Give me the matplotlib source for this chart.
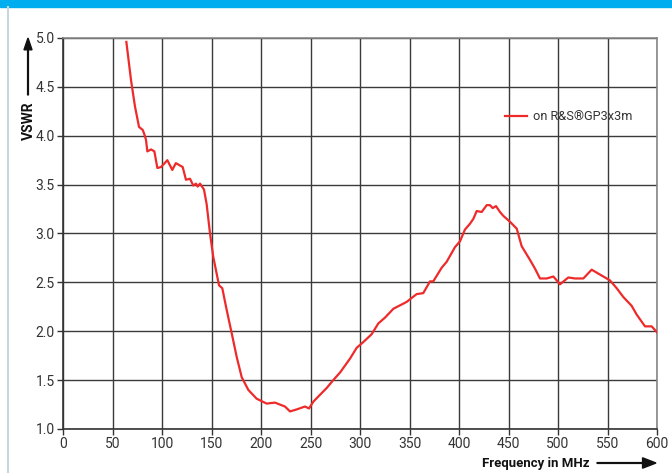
import matplotlib
matplotlib.use("Agg")
import matplotlib.pyplot as plt
from matplotlib import font_manager

# Measured VSWR of the antenna on the R&S GP3x3m ground plane
freq_mhz = [64, 68.7, 72.7, 76.8, 80.5, 82, 83.8, 85.2, 89, 92.3, 95.3, 99, 105.4, 110.4,
            114, 120.9, 124.2, 128.3, 131.6, 134.3, 136, 138.4, 142.4, 145.1, 148.5,
            151.8, 157.6, 160.9, 165.3, 170.4, 175.4, 180.5, 187.2, 195.6, 205.7, 214.1,
            224.2, 229.3, 236, 244.4, 248.5, 252.9, 259.6, 266.4, 273, 280, 289.9, 296.6,
            303.4, 311.8, 318.5, 325.3, 333.7, 347.1, 357.2, 363.9, 370.7, 374, 382.5,
            387.5, 395.9, 401, 406, 411.1, 414.5, 417.9, 422.9, 428, 431.3, 434, 437.4,
            441.4, 444.8, 451.5, 458.3, 463.3, 471.7, 476.8, 481.8, 488.6, 495.3, 498.7,
            502, 510.4, 517.2, 525.6, 534, 540.7, 547.5, 552.5, 559.3, 566, 574.4, 579.5,
            587.9, 594.6, 600]
vswr = [4.96, 4.57, 4.30, 4.09, 4.06, 4.02, 3.96, 3.84, 3.86, 3.84, 3.67, 3.68, 3.75, 3.65,
        3.72, 3.68, 3.55, 3.56, 3.49, 3.51, 3.48, 3.51, 3.45, 3.30, 3.00,
        2.76, 2.47, 2.44, 2.22, 1.98, 1.74, 1.53, 1.40, 1.31, 1.26, 1.27,
        1.23, 1.18, 1.20, 1.23, 1.21, 1.28, 1.35, 1.42, 1.50, 1.58, 1.72, 1.83,
        1.89, 1.97, 2.08, 2.14, 2.23, 2.30, 2.38, 2.39, 2.51, 2.51, 2.65,
        2.71, 2.86, 2.92, 3.04, 3.10, 3.15, 3.23, 3.22, 3.29, 3.29, 3.26, 3.28,
        3.22, 3.18, 3.12, 3.05, 2.87, 2.73, 2.64, 2.54, 2.54, 2.56, 2.52,
        2.48, 2.55, 2.54, 2.54, 2.63, 2.59, 2.55, 2.52, 2.44, 2.35, 2.26, 2.17,
        2.05, 2.05, 1.99]

x_ticks = list(range(0, 601, 50))
y_ticks = [1.0, 1.5, 2.0, 2.5, 3.0, 3.5, 4.0, 4.5, 5.0]
series_label = "on R&S\u00aeGP3x3m"

installed = {f.name for f in font_manager.fontManager.ttflist}
narrow = "Liberation Sans Narrow" if "Liberation Sans Narrow" in installed else "Roboto"
plt.rcParams["font.family"] = [narrow, "DejaVu Sans"]

W, H = 672, 473
fig = plt.figure(figsize=(W / 100, H / 100), dpi=100)

# Blue banner along the top and thin rule on the left edge
fig.patches.append(plt.Rectangle((0, 1 - 7 / H), 1, 7 / H, transform=fig.transFigure,
                                 color="#00aeef", zorder=0))
fig.lines.append(plt.Line2D([7.5 / W, 7.5 / W], [0, 1 - 7 / H], transform=fig.transFigure,
                            color="#c9d6de", lw=1.5))

left, right, top, bottom = 63, 657, 38, 429
ax = fig.add_axes([left / W, 1 - bottom / H, (right - left) / W, (bottom - top) / H])

ax.plot(freq_mhz, vswr, color="#ee2a2a", lw=1.6, label=series_label, zorder=3)

ax.set_xlim(0, 600)
ax.set_ylim(1.0, 5.0)
ax.set_xticks(x_ticks)
ax.set_xticklabels([str(v) for v in x_ticks])
ax.set_yticks(y_ticks)
ax.set_yticklabels([f"{v:.1f}" for v in y_ticks])
ax.grid(True, color="#3a3a3a", lw=1.0)
ax.set_axisbelow(True)
for s in ax.spines.values():
    s.set_color("#888888")
    s.set_linewidth(1.2)
ax.spines["left"].set_color("#333333")
ax.spines["bottom"].set_color("#333333")
ax.tick_params(axis="both", direction="out", length=4, width=1, colors="#333333",
               labelsize=10, pad=2)

leg = ax.legend(loc="upper left", bbox_to_anchor=(0.725, 0.845), frameon=False,
                handlelength=1.7, handletextpad=0.5, fontsize=9.2)
for t in leg.get_texts():
    t.set_color("#333333")

# Axis titles with direction arrows
fig.text(29 / W, 1 - 121 / H, "VSWR", rotation=90, ha="center", va="center",
         fontsize=10, fontweight="bold", color="#111111")
fig.add_artist(matplotlib.patches.FancyArrow(28 / W, 1 - 95 / H, 0, 57 / H,
                                             width=0.0012, head_width=0.012,
                                             head_length=0.025, length_includes_head=True,
                                             color="#111111", transform=fig.transFigure))
fig.text(590 / W, 1 - 463 / H, "Frequency in MHz", ha="right", va="center",
         fontsize=9.5, fontweight="bold", color="#111111")
fig.add_artist(matplotlib.patches.FancyArrow(597 / W, 1 - 463 / H, 59 / W, 0,
                                             width=0.0017, head_width=0.022,
                                             head_length=0.02, length_includes_head=True,
                                             color="#111111", transform=fig.transFigure))

fig.savefig("out.png", dpi=100)
